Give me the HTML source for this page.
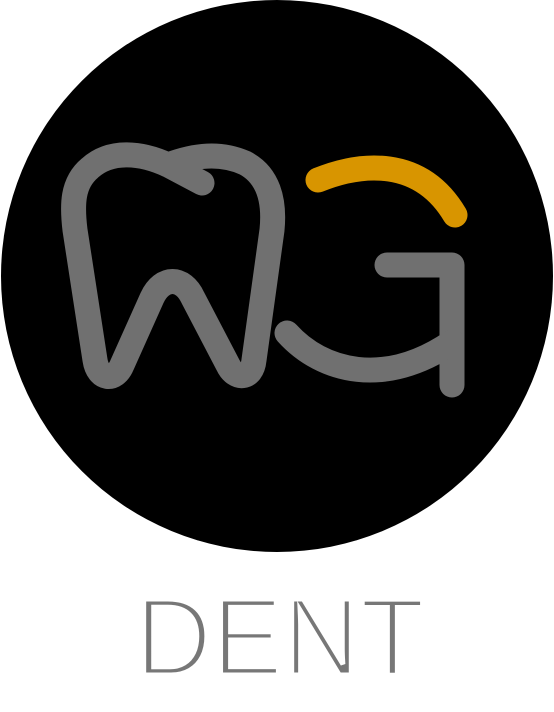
<!DOCTYPE html>
<html>
<head>
<meta charset="utf-8">
<style>
  html, body { margin: 0; padding: 0; background: #fff; }
  body { width: 554px; height: 707px; overflow: hidden; }
</style>
</head>
<body>
<svg width="554" height="707" viewBox="0 0 554 707" xmlns="http://www.w3.org/2000/svg">
  <circle cx="277" cy="276" r="276" fill="#000"/>
  <path
        d="M 202,183 L 168,165 C 140,152 110,150 90,168 C 72,183 72,205 75,230 L 95,360 C 98,380 115,382 122,365 L 152,298 C 162,276 183,276 193,298 L 228,365 C 235,380 252,380 254,360 L 272,230 C 275,200 268,175 245,163 C 220,152 195,155 168,165"
        fill="none" stroke="#707070" stroke-width="25" stroke-linecap="round" stroke-linejoin="round"/>
  <path
        d="M 318,180 C 360,163 420,156 455,215"
        fill="none" stroke="#D89500" stroke-width="25" stroke-linecap="round"/>
  <path
        d="M 387,265 L 452,265 L 452,385"
        fill="none" stroke="#707070" stroke-width="25" stroke-linecap="round" stroke-linejoin="round"/>
  <path
        d="M 287,333 C 322,372 385,388 452,342"
        fill="none" stroke="#707070" stroke-width="25" stroke-linecap="round"/>
  <text x="280" y="675" text-anchor="middle" font-family="Liberation Sans, sans-serif" font-size="110" fill="#777" stroke="#fff" stroke-width="5" paint-order="fill" textLength="290" lengthAdjust="spacingAndGlyphs">DENT</text>
</svg>
</body>
</html>
